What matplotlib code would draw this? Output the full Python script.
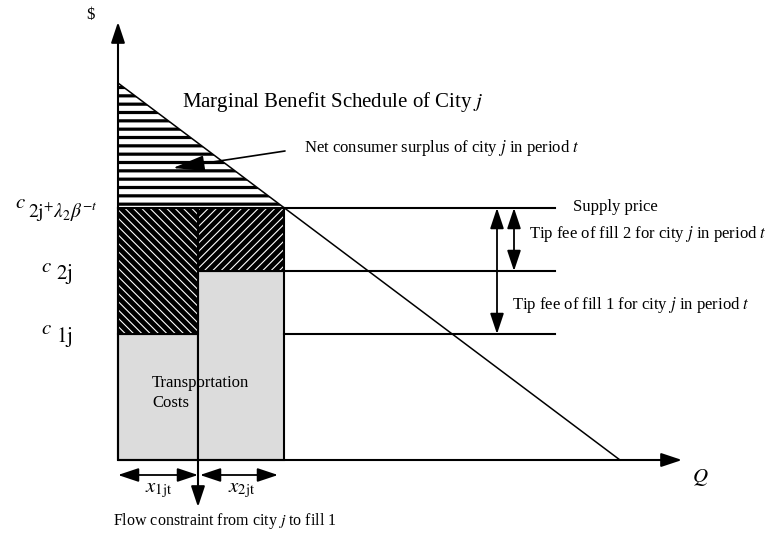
import matplotlib
matplotlib.use('Agg')
import matplotlib.pyplot as plt
from matplotlib.patches import Rectangle, Polygon, FancyArrowPatch

plt.rcParams['font.family'] = ['Liberation Serif', 'DejaVu Serif']
plt.rcParams['mathtext.fontset'] = 'stix'

# diagram units: quantity to the right, dollars up, origin at the corner of the axes
q_axis_end = 564
p_axis_end = 438
demand_q = [0, 502]
demand_p = [377, 0]
flows = [80, 166]                 # x1jt, x1jt + x2jt
level_names = ['c1j', 'c2j', 'supply']
level_values = [126, 189, 252]
level_line_end = 437
tip_arrow_q = [379, 396]          # fill 1, fill 2
tip_labels = ['Tip fee of fill 1 for city $j$ in period $t$',
              'Tip fee of fill 2 for city $j$ in period $t$']

c1, c2, sp = level_values
q1, q2 = flows

fig = plt.figure(figsize=(7.74, 5.36), dpi=100)
ax = fig.add_axes([0, 0, 1, 1])
ax.set_xlim(-118, 656)
ax.set_ylim(-76, 460)
ax.axis('off')

gray = '#dcdcdc'
# transportation costs
ax.add_patch(Rectangle((0, 0), q1, c1, facecolor=gray, edgecolor='black', lw=1.5))
ax.add_patch(Rectangle((q1, 0), q2 - q1, c2, facecolor=gray, edgecolor='black', lw=1.5))

# tip fees (black with thin white hatch)
h1 = Rectangle((0, c1), q1, sp - c1, facecolor='black', edgecolor='white', hatch='\\\\\\\\', lw=0)
h2 = Rectangle((q1, c2), q2 - q1, sp - c2, facecolor='black', edgecolor='white', hatch='////', lw=0)
for h in (h1, h2):
    try:
        h.set_hatch_linewidth(0.8)
    except AttributeError:
        pass
    ax.add_patch(h)
ax.add_patch(Rectangle((0, c1), q1, sp - c1, fill=False, edgecolor='black', lw=1.5))
ax.add_patch(Rectangle((q1, c2), q2 - q1, sp - c2, fill=False, edgecolor='black', lw=1.5))

# net consumer surplus triangle
tri = Polygon([(0, demand_p[0]), (0, sp), (q2, sp)], closed=True,
              facecolor='white', edgecolor='black', hatch='--', lw=0)
try:
    tri.set_hatch_linewidth(2.3)
except AttributeError:
    pass
ax.add_patch(tri)

# demand (marginal benefit) line
ax.plot(demand_q, demand_p, color='black', lw=1.1)

# price level lines
ax.plot([0, level_line_end], [sp, sp], color='black', lw=1.5)
ax.plot([q2, level_line_end], [c2, c2], color='black', lw=1.5)
ax.plot([q2, level_line_end], [c1, c1], color='black', lw=1.5)


def arrow(p0, p1, style='-|>', lw=1.5, ms=14):
    ax.add_patch(FancyArrowPatch(p0, p1, arrowstyle=style, mutation_scale=ms,
                                 color='black', lw=lw, shrinkA=0, shrinkB=0))


head = '-|>,head_length=0.9,head_width=0.3'
dbl = '<|-|>,head_length=0.9,head_width=0.3'
arrow((0, 0), (0, p_axis_end), head)
arrow((0, 0), (q_axis_end, 0), head)

# tip fee arrows
arrow((tip_arrow_q[0], c1), (tip_arrow_q[0], sp), dbl, lw=1.3)
arrow((tip_arrow_q[1], c2), (tip_arrow_q[1], sp), dbl, lw=1.3)

# flow arrows below the axis
arrow((0, -15), (q1, -15), dbl, lw=1.3)
arrow((q1 + 2, -15), (q2 - 6, -15), dbl, lw=1.3)
arrow((q1, 0), (q1, -47), head, lw=1.5)

# surplus pointer
arrow((167, 309), (55, 292), '-|>,head_length=1.4,head_width=0.35', lw=1.2)

# texts
ax.text(-28, 445, '$', fontsize=12, ha='center', va='center')
ax.text(582, -18, '$Q$', fontsize=15, ha='center', va='center')
ax.text(64, 358, 'Marginal Benefit Schedule of City $j$', fontsize=15, va='center')
ax.text(186, 312, 'Net consumer surplus of city $j$ in period $t$', fontsize=12, va='center')
ax.text(455, sp + 1, 'Supply price', fontsize=12, va='center')
ax.text(411, 226, tip_labels[1], fontsize=12, va='center')
ax.text(394, 155, tip_labels[0], fontsize=12, va='center')
ax.text(34, 67, 'Transportation\nCosts', fontsize=12, va='center', linespacing=1.35)

ax.text(-20, sp - 4, r'$\mathrm{2j}^{+}\lambda_{2}\beta^{-t}$', fontsize=14, ha='right', va='center')
ax.text(-92, sp + 4, '$c$', fontsize=15, ha='right', va='center')
ax.text(-46, c2 - 3, r'$\mathrm{2j}$', fontsize=15, ha='right', va='center')
ax.text(-66, c2 + 4, '$c$', fontsize=15, ha='right', va='center')
ax.text(-46, c1 - 3, r'$\mathrm{1j}$', fontsize=15, ha='right', va='center')
ax.text(-66, c1 + 4, '$c$', fontsize=15, ha='right', va='center')

ax.text(41, -30, r'$x_{\mathrm{1jt}}$', fontsize=15, ha='center', va='center')
ax.text(124, -30, r'$x_{\mathrm{2jt}}$', fontsize=15, ha='center', va='center')
ax.text(-5, -61, 'Flow constraint from city $j$ to fill 1', fontsize=11.5, va='center')

fig.savefig('out.png', dpi=100)
